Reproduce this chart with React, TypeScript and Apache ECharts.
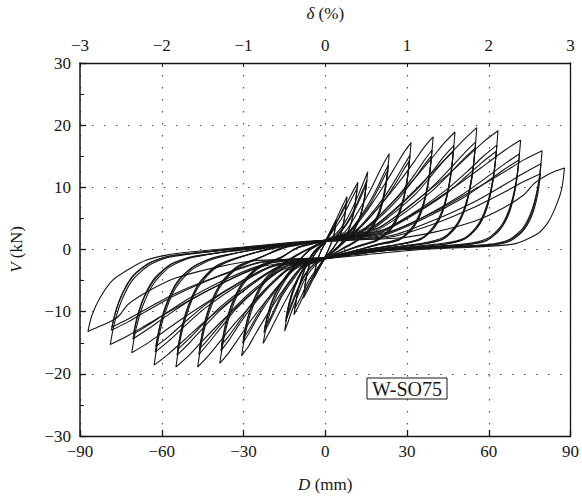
import React, { useEffect, useRef } from "react";
import * as echarts from "echarts";

// ---- axis ticks ----
const xTickValues = [-90, -60, -30, 0, 30, 60, 90];
const driftTickValues = [-3, -2, -1, 0, 1, 2, 3];
const yTickValues = [-30, -20, -10, 0, 10, 20, 30];

// ---- positive excursions: [D (mm), V (kN)] ----
const posL1 = [
  [[0, 1.2], [2, 3.0], [4, 4.8], [3.3, 2.6], [2, 0.8], [0, -1.2]],
  [[0, 1.0], [2, 2.6], [3.9, 4.3], [3.2, 2.3], [1.8, 0.6], [0, -1.1]],
];
const posL2 = [
  [[0, 1.3], [4, 4.8], [6.5, 7.2], [8, 8.5], [7, 5], [5.5, 2.2], [3, 0.3], [0, -1.3]],
  [[0, 1.2], [4, 4.2], [6.4, 6.4], [7.8, 7.6], [6.8, 4.4], [5.2, 1.9], [3, 0.2], [0, -1.2]],
];
const posL3 = [
  [[0, 1.4], [6, 5.8], [9.6, 8.9], [12, 10.8], [10.6, 6.3], [8.5, 3.0], [5, 0.6], [0, -1.4]],
  [[0, 1.3], [6, 5.0], [9.5, 8.0], [11.7, 9.8], [10.3, 5.7], [8.2, 2.6], [5, 0.4], [0, -1.3]],
];
const posL4 = [
  [[0, 1.4], [3.9, 2.5], [7.8, 4.8], [10.9, 7.5], [13.2, 9.9], [14.6, 11.4], [15.6, 12.5], [14.5, 8.6], [12.5, 5], [9.5, 2.5], [5, 0.6], [0, -1.4]],
  [[0, 1.3], [3.9, 2.2], [7.8, 4.2], [10.8, 6.6], [13, 8.8], [14.4, 10.2], [15.3, 11.2], [14.2, 7.7], [12.2, 4.5], [9.2, 2.2], [5, 0.5], [0, -1.3]],
  [[0, 1.2], [3.9, 2.1], [7.8, 4], [10.7, 6.2], [12.9, 8.3], [14.2, 9.6], [15.1, 10.6], [14, 7.3], [12, 4.3], [9, 2.1], [5, 0.4], [0, -1.2]],
];
const posL5 = [
  [[0, 1.5], [7.1, 2.8], [11.8, 5.9], [16.5, 9.5], [19.5, 12.2], [21.6, 14.0], [23.5, 15.4], [22.3, 10.8], [20, 6.5], [16.5, 3.4], [11.5, 1.5], [6, 0.1], [0, -1.5]],
  [[0, 1.4], [7.1, 2.2], [11.8, 4.6], [16.5, 7.8], [19.4, 10.2], [21.4, 12.1], [23.2, 13.6], [22, 9.5], [19.7, 5.7], [16.2, 3.0], [11.2, 1.3], [6, 0], [0, -1.4]],
  [[0, 1.3], [7.1, 2.0], [11.8, 4.4], [16.5, 7.3], [19.3, 9.6], [21.3, 11.4], [23, 12.8], [21.8, 9], [19.5, 5.4], [16, 2.8], [11, 1.2], [6, 0], [0, -1.3]],
];
const posL6 = [
  [[0, 1.5], [9.5, 3.1], [15.8, 6.5], [22.1, 10.7], [26.1, 13.6], [29, 15.7], [31.5, 17.2], [30.3, 12], [28, 7.2], [24.5, 3.8], [19.5, 1.7], [11.5, 0.5], [0, -1.5]],
  [[0, 1.4], [9.5, 2.4], [15.8, 5.2], [22.1, 8.7], [26, 11.4], [28.8, 13.5], [31.1, 15.2], [29.9, 10.6], [27.6, 6.4], [24.1, 3.3], [19.1, 1.5], [11.1, 0.4], [0, -1.4]],
  [[0, 1.3], [9.5, 2.3], [15.8, 4.9], [22.1, 8.2], [25.9, 10.7], [28.6, 12.7], [30.9, 14.3], [29.7, 10], [27.4, 6], [23.9, 3.1], [18.9, 1.4], [10.9, 0.3], [0, -1.3]],
];
const posL7 = [
  [[0, 1.5], [11.9, 3.3], [19.8, 6.9], [27.7, 11.2], [32.9, 14.3], [36.4, 16.5], [39.6, 18.1], [38.4, 12.7], [36.1, 7.6], [32.6, 4], [27.6, 1.8], [19.6, 0.9], [11.9, -0.1], [0, -1.5]],
  [[0, 1.4], [11.9, 2.6], [19.8, 5.4], [27.7, 9.1], [32.7, 12], [36.1, 14.2], [39.2, 16], [38, 11.2], [35.7, 6.7], [32.2, 3.5], [27.2, 1.6], [19.2, 0.8], [11.9, -0.1], [0, -1.4]],
  [[0, 1.3], [11.9, 2.4], [19.8, 5.1], [27.7, 8.6], [32.6, 11.3], [36, 13.4], [39, 15.1], [37.8, 10.6], [35.5, 6.3], [32, 3.3], [27, 1.5], [19, 0.7], [11.7, -0.1], [0, -1.3]],
];
const posL8 = [
  [[0, 1.5], [14.3, 3.4], [23.8, 7.2], [33.3, 11.7], [39.5, 14.9], [43.8, 17.2], [47.6, 18.9], [46.4, 13.2], [44.1, 7.9], [40.6, 4.2], [35.6, 1.9], [27.6, 0.9], [14.3, -0.1], [0, -1.5]],
  [[0, 1.4], [14.3, 2.7], [23.8, 5.7], [33.3, 9.5], [39.2, 12.5], [43.4, 14.9], [47.2, 16.7], [46, 11.7], [43.7, 7], [40.2, 3.7], [35.2, 1.7], [27.2, 0.8], [14.3, -0.1], [0, -1.4]],
  [[0, 1.3], [14.3, 2.5], [23.8, 5.4], [33.3, 9], [39, 11.9], [43.2, 14.1], [47, 15.8], [45.8, 11.1], [43.5, 6.6], [40, 3.5], [35, 1.6], [27, 0.8], [14.1, -0.1], [0, -1.3]],
];
const posL9 = [
  [[0, 1.5], [16.7, 3.5], [27.8, 7.4], [38.9, 12.2], [46.1, 15.5], [51.2, 17.8], [55.6, 19.6], [54.4, 13.7], [52.1, 8.2], [48.6, 4.3], [43.6, 2], [35.6, 1], [16.7, -0.1], [0, -1.5]],
  [[0, 1.4], [16.7, 2.8], [27.8, 5.9], [38.9, 9.9], [45.8, 13], [50.8, 15.4], [55.2, 17.3], [54, 12.1], [51.7, 7.3], [48.2, 3.8], [43.2, 1.7], [35.2, 0.9], [16.7, -0.1], [0, -1.4]],
  [[0, 1.3], [16.7, 2.6], [27.8, 5.5], [38.9, 9.3], [45.7, 12.2], [50.6, 14.5], [55, 16.3], [53.8, 11.4], [51.5, 6.8], [48, 3.6], [43, 1.6], [35, 0.8], [16.5, -0.1], [0, -1.3]],
];
const posL10 = [
  [[0, 1.5], [19, 3.4], [31.7, 7.3], [44.4, 11.8], [52.6, 15.1], [58.3, 17.4], [63.4, 19.1], [62.2, 13.4], [59.9, 8], [56.4, 4.2], [51.4, 1.9], [43.4, 1], [19, -0.1], [0, -1.5]],
  [[0, 1.4], [19, 2.7], [31.7, 5.7], [44.4, 9.6], [52.3, 12.6], [58, 15.0], [63, 16.8], [61.8, 11.8], [59.5, 7.1], [56, 3.7], [51, 1.7], [43, 0.8], [19, -0.1], [0, -1.4]],
  [[0, 1.3], [19, 2.5], [31.7, 5.4], [44.4, 9], [52.1, 11.9], [57.8, 14.1], [62.8, 15.8], [61.6, 11.1], [59.3, 6.6], [55.8, 3.5], [50.8, 1.6], [42.8, 0.8], [18.8, -0.1], [0, -1.3]],
];
const posL11 = [
  [[0, 1.5], [21.5, 3.2], [35.9, 6.7], [50.2, 10.9], [59.5, 13.9], [66, 16.0], [71.7, 17.6], [70.5, 12.3], [68.2, 7.4], [64.7, 3.9], [59.7, 1.8], [51.7, 0.9], [21.5, -0.1], [0, -1.5]],
  [[0, 1.4], [21.5, 2.5], [35.9, 5.2], [50.2, 8.8], [59.2, 11.6], [65.6, 13.7], [71.3, 15.4], [70.1, 10.8], [67.8, 6.5], [64.3, 3.4], [59.3, 1.5], [51.3, 0.8], [21.5, -0.1], [0, -1.4]],
  [[0, 1.3], [21.5, 2.3], [35.9, 4.9], [50.2, 8.2], [59, 10.8], [65.4, 12.8], [71.1, 14.4], [69.9, 10.1], [67.6, 6], [64.1, 3.2], [59.1, 1.4], [51.1, 0.7], [21.3, -0.1], [0, -1.3]],
];
const posL12 = [
  [[0, 1.5], [23.9, 2.9], [39.8, 6.0], [55.7, 9.9], [66.1, 12.6], [73.2, 14.5], [79.6, 15.9], [78.4, 11.1], [76.1, 6.7], [72.6, 3.5], [67.6, 1.6], [59.6, 0.8], [23.9, -0.1], [0, -1.5]],
  [[0, 1.4], [23.9, 2.2], [39.8, 4.7], [55.7, 7.9], [65.7, 10.4], [72.9, 12.3], [79.2, 13.8], [78, 9.7], [75.7, 5.8], [72.2, 3], [67.2, 1.4], [59.2, 0.7], [23.9, -0.1], [0, -1.4]],
  [[0, 1.3], [23.9, 2.0], [39.8, 4.1], [55.7, 7.0], [65.6, 9.2], [72.7, 10.9], [79, 12.2], [77.8, 8.5], [75.5, 5.1], [72, 2.7], [67, 1.2], [59, 0.6], [23.7, -0.1], [0, -1.3]],
];
const posL13 = [
  [[0, 1.5], [26, 1.8], [40, 2.8], [55, 4.6], [65, 6.6], [72.9, 8.8], [76.6, 10.6], [80.3, 11.7], [83.9, 12.5], [87.8, 13.1],
   [86.8, 9.8], [84.4, 6.7], [81.5, 4.2], [77.8, 2.5], [69.3, 0.9], [55, 0.4], [35, 0], [0, -1.5]],
];

// ---- negative excursions ----
const negL1 = [
  [[0, -1.2], [-2, -2.8], [-4, -4.5], [-3.3, -2.4], [-2, -0.7], [0, 1.2]],
  [[0, -1.1], [-2, -2.5], [-3.9, -4.0], [-3.2, -2.1], [-1.8, -0.5], [0, 1.0]],
];
const negL2 = [
  [[0, -1.3], [-4, -4.4], [-6.5, -6.6], [-8, -7.8], [-7, -4.6], [-5.5, -2.0], [-3, -0.3], [0, 1.3]],
  [[0, -1.2], [-4, -3.9], [-6.4, -5.9], [-7.8, -7], [-6.8, -4.1], [-5.2, -1.8], [-3, -0.2], [0, 1.2]],
];
const negL3 = [
  [[0, -1.4], [-5.8, -5.5], [-9.2, -8.6], [-11.5, -10.5], [-9.9, -6.5], [-7.5, -3.2], [-4.5, -0.6], [0, 1.4]],
  [[0, -1.3], [-5.8, -4.8], [-9.1, -7.8], [-11.2, -9.5], [-9.6, -5.9], [-7.2, -2.8], [-4.4, -0.5], [0, 1.3]],
];
const negL4 = [
  [[0, -1.4], [-3.7, -2.5], [-7.5, -4.8], [-10.4, -7.8], [-12.6, -10.3], [-13.9, -12], [-14.9, -13.1], [-13.6, -9.8], [-11.5, -6.5], [-8.5, -3.5], [-4.5, -0.8], [0, 1.4]],
  [[0, -1.3], [-3.7, -2.2], [-7.5, -4.2], [-10.3, -6.8], [-12.4, -9.1], [-13.7, -10.6], [-14.6, -11.6], [-13.3, -8.7], [-11.2, -5.8], [-8.2, -3.1], [-4.4, -0.6], [0, 1.3]],
  [[0, -1.2], [-3.7, -2.1], [-7.5, -4], [-10.2, -6.4], [-12.3, -8.6], [-13.5, -10], [-14.4, -11], [-13.1, -8.3], [-11, -5.5], [-8, -3], [-4.3, -0.5], [0, 1.2]],
];
const negL5 = [
  [[0, -1.5], [-6.8, -2.7], [-11.4, -5.7], [-16, -9.4], [-18.9, -11.9], [-21, -13.7], [-22.8, -15.1], [-21.3, -11.8], [-18.8, -8.3], [-14.8, -5], [-9.5, -1.8], [-5, 0.3], [0, 1.5]],
  [[0, -1.4], [-6.8, -2.1], [-11.4, -4.6], [-16, -7.6], [-18.7, -10.1], [-20.7, -11.9], [-22.5, -13.4], [-21, -10.5], [-18.5, -7.4], [-14.5, -4.4], [-9.3, -1.6], [-5, 0.2], [0, 1.4]],
  [[0, -1.3], [-6.8, -2.0], [-11.4, -4.3], [-16, -7.2], [-18.5, -9.5], [-20.5, -11.3], [-22.3, -12.7], [-20.8, -9.9], [-18.3, -7], [-14.3, -4.2], [-9.1, -1.5], [-5, 0.1], [0, 1.3]],
];
const negL6 = [
  [[0, -1.5], [-9.2, -3.1], [-15.4, -6.5], [-21.5, -10.6], [-25.5, -13.5], [-28.2, -15.6], [-30.7, -17.1], [-29.2, -13.3], [-26.7, -9.4], [-22.7, -5.6], [-16.7, -2.9], [-9, -0.6], [0, 1.5]],
  [[0, -1.4], [-9.2, -2.4], [-15.4, -5.1], [-21.5, -8.6], [-25.3, -11.3], [-27.9, -13.4], [-30.3, -15.1], [-28.8, -11.8], [-26.3, -8.3], [-22.3, -5], [-16.3, -2.6], [-8.8, -0.5], [0, 1.4]],
  [[0, -1.3], [-9.2, -2.3], [-15.4, -4.9], [-21.5, -8.2], [-25.1, -10.7], [-27.7, -12.7], [-30.1, -14.3], [-28.6, -11.2], [-26.1, -7.9], [-22.1, -4.7], [-16.1, -2.4], [-8.6, -0.4], [0, 1.3]],
];
const negL7 = [
  [[0, -1.5], [-11.6, -3.3], [-19.4, -7], [-27.1, -11.3], [-32.1, -14.5], [-35.6, -16.7], [-38.7, -18.3], [-37.2, -14.3], [-34.7, -10.1], [-30.7, -6], [-24.7, -3.1], [-16.7, -1.5], [-10, 0.4], [0, 1.5]],
  [[0, -1.4], [-11.6, -2.6], [-19.4, -5.5], [-27.1, -9.3], [-31.8, -12.2], [-35.2, -14.5], [-38.3, -16.3], [-36.8, -12.7], [-34.3, -9], [-30.3, -5.4], [-24.3, -2.8], [-16.3, -1.3], [-10, 0.3], [0, 1.4]],
  [[0, -1.3], [-11.6, -2.5], [-19.4, -5.2], [-27.1, -8.8], [-31.6, -11.6], [-35, -13.7], [-38.1, -15.4], [-36.6, -12], [-34.1, -8.5], [-30.1, -5.1], [-24.1, -2.6], [-16.1, -1.2], [-10, 0.3], [0, 1.3]],
];
const negL8 = [
  [[0, -1.5], [-14, -3.4], [-23.4, -7.2], [-32.8, -11.7], [-38.8, -14.9], [-43.1, -17.2], [-46.8, -18.9], [-45.3, -14.7], [-42.8, -10.4], [-38.8, -6.2], [-32.8, -3.2], [-24.8, -1.5], [-14, 0.6], [0, 1.5]],
  [[0, -1.4], [-14, -2.7], [-23.4, -5.7], [-32.8, -9.6], [-38.5, -12.7], [-42.7, -15], [-46.4, -16.9], [-44.9, -13.2], [-42.4, -9.3], [-38.4, -5.6], [-32.4, -2.9], [-24.4, -1.4], [-14, 0.5], [0, 1.4]],
  [[0, -1.3], [-14, -2.6], [-23.4, -5.4], [-32.8, -9.1], [-38.3, -12], [-42.5, -14.2], [-46.2, -16], [-44.7, -12.5], [-42.2, -8.8], [-38.2, -5.3], [-32.2, -2.7], [-24.2, -1.3], [-13.8, 0.4], [0, 1.3]],
];
const negL9 = [
  [[0, -1.5], [-16.4, -3.4], [-27.4, -7.2], [-38.4, -11.7], [-45.5, -14.9], [-50.4, -17.2], [-54.8, -18.9], [-53.3, -14.7], [-50.8, -10.4], [-46.8, -6.2], [-40.8, -3.2], [-32.8, -1.5], [-16.4, 0.6], [0, 1.5]],
  [[0, -1.4], [-16.4, -2.7], [-27.4, -5.8], [-38.4, -9.7], [-45.2, -12.8], [-50, -15.1], [-54.4, -17], [-52.9, -13.3], [-50.4, -9.4], [-46.4, -5.6], [-40.4, -2.9], [-32.4, -1.4], [-16.4, 0.5], [0, 1.4]],
  [[0, -1.3], [-16.4, -2.6], [-27.4, -5.5], [-38.4, -9.2], [-45, -12.1], [-49.9, -14.3], [-54.2, -16.1], [-52.7, -12.6], [-50.2, -8.9], [-46.2, -5.3], [-40.2, -2.7], [-32.2, -1.3], [-16.2, 0.4], [0, 1.3]],
];
const negL10 = [
  [[0, -1.5], [-18.8, -3.3], [-31.4, -7.1], [-44, -11.5], [-52.1, -14.7], [-57.8, -16.9], [-62.8, -18.6], [-61.3, -14.5], [-58.8, -10.2], [-54.8, -6.1], [-48.8, -3.2], [-40.8, -1.5], [-18.8, 0.6], [0, 1.5]],
  [[0, -1.4], [-18.8, -2.6], [-31.4, -5.6], [-44, -9.4], [-51.8, -12.4], [-57.4, -14.7], [-62.4, -16.5], [-60.9, -12.9], [-58.4, -9.1], [-54.4, -5.4], [-48.4, -2.8], [-40.4, -1.3], [-18.8, 0.5], [0, 1.4]],
  [[0, -1.3], [-18.8, -2.5], [-31.4, -5.3], [-44, -8.9], [-51.6, -11.7], [-57.2, -13.9], [-62.2, -15.6], [-60.7, -12.2], [-58.2, -8.6], [-54.2, -5.1], [-48.2, -2.7], [-40.2, -1.2], [-18.6, 0.4], [0, 1.3]],
];
const negL11 = [
  [[0, -1.5], [-21.3, -3], [-35.5, -6.3], [-49.7, -10.3], [-58.9, -13.1], [-65.3, -15.1], [-71, -16.6], [-69.5, -12.9], [-67, -9.1], [-63, -5.5], [-57, -2.8], [-49, -1.3], [-21.3, 0.6], [0, 1.5]],
  [[0, -1.4], [-21.3, -2.3], [-35.5, -4.9], [-49.7, -8.2], [-58.6, -10.8], [-65, -12.8], [-70.6, -14.4], [-69.1, -11.2], [-66.6, -7.9], [-62.6, -4.8], [-56.6, -2.4], [-48.6, -1.2], [-21.3, 0.5], [0, 1.4]],
  [[0, -1.3], [-21.3, -2.2], [-35.5, -4.6], [-49.7, -7.8], [-58.4, -10.2], [-64.8, -12.1], [-70.4, -13.6], [-68.9, -10.6], [-66.4, -7.5], [-62.4, -4.5], [-56.4, -2.3], [-48.4, -1.1], [-21.1, 0.4], [0, 1.3]],
];
const negL12 = [
  [[0, -1.5], [-23.7, -2.8], [-39.5, -5.8], [-55.2, -9.5], [-65.5, -12.1], [-72.6, -13.9], [-78.9, -15.3], [-77.4, -11.9], [-74.9, -8.4], [-70.9, -5], [-64.9, -2.6], [-56.9, -1.2], [-23.7, 0.6], [0, 1.5]],
  [[0, -1.4], [-23.7, -2.1], [-39.5, -4.4], [-55.2, -7.4], [-65.2, -9.8], [-72.2, -11.6], [-78.5, -13], [-77, -10.1], [-74.5, -7.2], [-70.5, -4.3], [-64.5, -2.2], [-56.5, -1], [-23.7, 0.5], [0, 1.4]],
  [[0, -1.3], [-23.7, -2], [-39.5, -4.3], [-55.2, -7.1], [-65, -9.4], [-72, -11.1], [-78.3, -12.5], [-76.8, -9.8], [-74.3, -6.9], [-70.3, -4.1], [-64.3, -2.1], [-56.3, -1], [-23.5, 0.4], [0, 1.3]],
];
const negL13 = [
  [[0, -1.5], [-26, -1.8], [-39.2, -2.8], [-54.9, -4.6], [-64.5, -6.6], [-72.3, -8.8], [-75.8, -10.7], [-79.3, -11.7], [-83.6, -12.5], [-87.1, -13.2],
   [-85.7, -10.7], [-82.7, -7.8], [-77.9, -4.9], [-71.8, -3.1], [-65.6, -1.7], [-58.3, -0.9], [-49.8, -0.4],
   [-30, 0.4], [-11, 1.2], [0, 1.5]],
];

const specimenLabel = "W-SO75";

const allLevels = [
  posL1, negL1, posL2, negL2, posL3, negL3, posL4, negL4, posL5, negL5, posL6, negL6,
  posL7, negL7, posL8, negL8, posL9, negL9, posL10, negL10, posL11, negL11, posL12, negL12,
  posL13, negL13,
];

const FONT = "'Liberation Serif', 'Times New Roman', serif";
const INK = "#161616";
const minus = (v: number) => String(v).replace("-", "\u2212");

export default function App() {
  const ref = useRef<HTMLDivElement>(null);
  useEffect(() => {
    if (!ref.current) return;
    const chart = echarts.init(ref.current, undefined, { renderer: "svg" });
    const series: any[] = [];
    allLevels.forEach((lvl) =>
      lvl.forEach((cyc) =>
        series.push({
          type: "line",
          data: cyc,
          xAxisIndex: 0,
          yAxisIndex: 0,
          symbol: "none",
          showSymbol: false,
          smooth: 0.25,
          silent: true,
          lineStyle: { color: INK, width: 1.1 },
          z: 3,
        })
      )
    );
    const gridDots = { type: [1.5, 10.5], color: "#555", width: 1.2 };
    const labelStyle = { fontFamily: FONT, fontSize: 17, color: INK };
    chart.setOption({
      animation: false,
      backgroundColor: "#fff",
      grid: { left: 78, top: 59, width: 493, height: 380, containLabel: false },
      xAxis: [
        {
          type: "value",
          min: xTickValues[0],
          max: xTickValues[xTickValues.length - 1],
          interval: 30,
          position: "bottom",
          axisLine: { show: true, onZero: false, lineStyle: { color: INK, width: 1.3 } },
          axisTick: { show: true, inside: true, length: 6, lineStyle: { color: INK, width: 1.3 } },
          axisLabel: { ...labelStyle, margin: 7, formatter: (v: number) => minus(v) },
          splitLine: { show: true, lineStyle: gridDots },
          name: "{i|D} (mm)",
          nameLocation: "middle",
          nameGap: 40,
          nameTextStyle: { ...labelStyle, rich: { i: { ...labelStyle, fontStyle: "italic" } } },
        },
        {
          type: "value",
          min: driftTickValues[0],
          max: driftTickValues[driftTickValues.length - 1],
          interval: 1,
          position: "top",
          axisLine: { show: true, onZero: false, lineStyle: { color: INK, width: 1.3 } },
          axisTick: { show: true, inside: true, length: 4, lineStyle: { color: INK, width: 1 } },
          axisLabel: { ...labelStyle, margin: 9, formatter: (v: number) => minus(v) },
          splitLine: { show: false },
          name: "{i|\u03b4} (%)",
          nameLocation: "middle",
          nameGap: 41,
          nameTextStyle: { ...labelStyle, rich: { i: { ...labelStyle, fontStyle: "italic" } } },
        },
      ],
      yAxis: [
        {
          type: "value",
          min: yTickValues[0],
          max: yTickValues[yTickValues.length - 1],
          interval: 10,
          position: "left",
          axisLine: { show: true, onZero: false, lineStyle: { color: INK, width: 1.5 } },
          axisTick: { show: true, inside: true, length: 6, lineStyle: { color: INK, width: 1.3 } },
          minorTick: { show: true, splitNumber: 2, length: 4, lineStyle: { color: INK, width: 1 } },
          axisLabel: { ...labelStyle, margin: 9, formatter: (v: number) => minus(v) },
          splitLine: { show: true, lineStyle: gridDots },
          name: "{i|V} (kN)",
          nameLocation: "middle",
          nameGap: 55,
          nameTextStyle: { ...labelStyle, rich: { i: { ...labelStyle, fontStyle: "italic" } } },
        },
        {
          type: "value",
          min: yTickValues[0],
          max: yTickValues[yTickValues.length - 1],
          interval: 10,
          position: "right",
          axisLine: { show: true, onZero: false, lineStyle: { color: INK, width: 1.3 } },
          axisTick: { show: false },
          axisLabel: { show: false },
          splitLine: { show: false },
        },
      ],
      graphic: [
        {
          type: "rect",
          z: 10,
          shape: { x: 367, y: 378, width: 80, height: 21 },
          style: { fill: "#fff", stroke: INK, lineWidth: 1 },
        },
        {
          type: "text",
          z: 11,
          x: 407,
          y: 389,
          style: {
            text: specimenLabel,
            fontFamily: FONT,
            fontSize: 20,
            fill: INK,
            align: "center",
            verticalAlign: "middle",
          },
        },
      ],
      series,
    });
    return () => chart.dispose();
  }, []);
  return (
    <div
      ref={ref}
      style={{ position: "fixed", left: 0, top: 0, width: 582, height: 498, background: "#fff" }}
    />
  );
}
